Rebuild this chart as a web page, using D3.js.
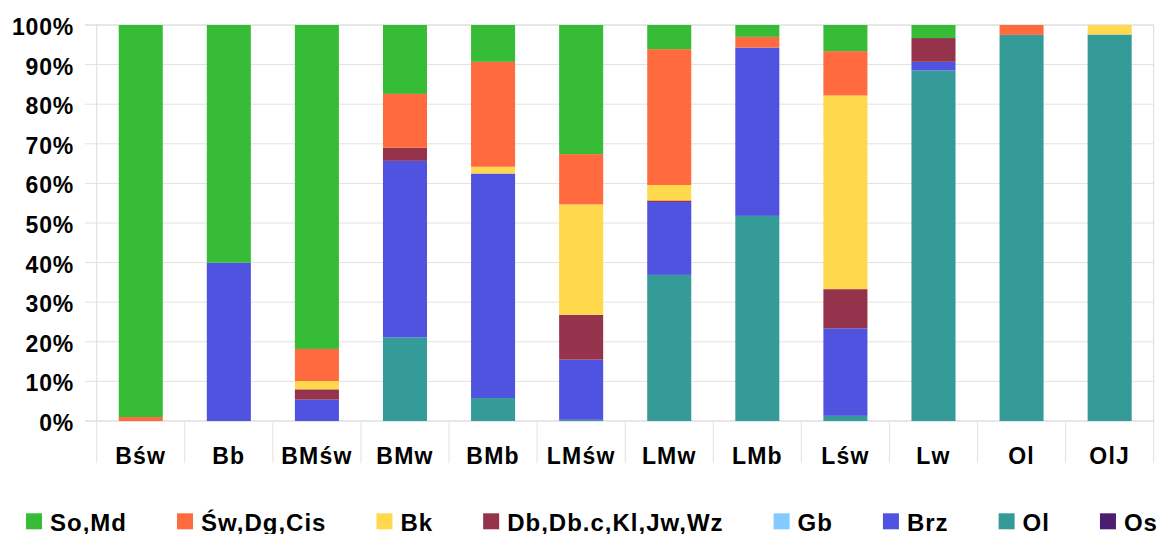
<!DOCTYPE html>
<html>
<head>
<meta charset="utf-8">
<script src="https://cdn.jsdelivr.net/npm/d3@7/dist/d3.min.js"></script>
<style>
  html, body { margin: 0; padding: 0; background: #fff; }
  svg { display: block; }
  text { font-family: "Liberation Sans", Arial, sans-serif; font-weight: bold; fill: #000; }
</style>
</head>
<body>
<svg id="chart" width="1160" height="534"></svg>
<script>
// Stand categories (x axis)
const categories = ["Bśw", "Bb", "BMśw", "BMw", "BMb", "LMśw", "LMw", "LMb", "Lśw", "Lw", "Ol", "OlJ"];

// Species groups, in legend order
const seriesNames = ["So,Md", "Św,Dg,Cis", "Bk", "Db,Db.c,Kl,Jw,Wz", "Gb", "Brz", "Ol", "Os"];
const seriesColors = ["#37bc37", "#ff6b3e", "#ffd84d", "#95334d", "#85caff", "#5052e0", "#359b98", "#4b1e6f"];

// Share of each group per category (%)
const soMd   = [99.0, 60.0, 81.8, 17.4,  9.3, 32.6,  6.1,  3.0,  6.6,  3.3,  0.0,  0.0];
const swDg   = [ 1.0,  0.0,  8.1, 13.6, 26.5, 12.7, 34.3,  2.7, 11.2,  0.0,  2.5,  0.0];
const bk     = [ 0.0,  0.0,  2.1,  0.0,  1.7, 27.9,  3.9,  0.0, 48.9,  0.0,  0.0,  2.4];
const dbKl   = [ 0.0,  0.0,  2.6,  3.3,  0.0, 11.3,  0.4,  0.0,  9.9,  6.0,  0.0,  0.0];
const gb     = [ 0.0,  0.0,  0.0,  0.0,  0.0,  0.0,  0.0,  0.0,  0.0,  0.0,  0.0,  0.0];
const brz    = [ 0.0, 40.0,  5.4, 44.6, 56.7, 15.2, 18.4, 42.5, 22.1,  2.2,  0.0,  0.0];
const ol     = [ 0.0,  0.0,  0.0, 21.1,  5.8,  0.3, 36.9, 51.8,  1.3, 88.5, 97.5, 97.6];
const os     = [ 0.0,  0.0,  0.0,  0.0,  0.0,  0.0,  0.0,  0.0,  0.0,  0.0,  0.0,  0.0];

const yTicks = [0, 10, 20, 30, 40, 50, 60, 70, 80, 90, 100];

const seriesValues = [soMd, swDg, bk, dbKl, gb, brz, ol, os];

// Rows for d3.stack
const rows = categories.map((c, i) => {
  const r = { cat: c };
  seriesNames.forEach((s, k) => { r[s] = seriesValues[k][i]; });
  return r;
});

// Stack bottom-up: Os, Ol, Brz, Gb, Db.., Bk, Św.., So,Md
const stackKeys = seriesNames.slice().reverse();
const stacked = d3.stack().keys(stackKeys)(rows);

const svg = d3.select("#chart");
const plot = { left: 96.7, right: 1153.7, top: 25, bottom: 421 };

const x = d3.scaleBand()
  .domain(categories)
  .range([plot.left, plot.right])
  .paddingInner(0.5)
  .paddingOuter(0.25);

const y = d3.scaleLinear().domain([0, 100]).range([plot.bottom, plot.top]);

// Horizontal grid lines with outward ticks
svg.append("g").selectAll("line")
  .data(yTicks)
  .join("line")
  .attr("x1", 85)
  .attr("x2", plot.right)
  .attr("y1", d => y(d))
  .attr("y2", d => y(d))
  .attr("stroke", d => (d === 100 || d === 0) ? "#cfcfcf" : "#e2e2e2")
  .attr("stroke-width", 1);

// Left and right frame lines
svg.append("line")
  .attr("x1", plot.left).attr("x2", plot.left)
  .attr("y1", plot.top).attr("y2", plot.bottom)
  .attr("stroke", "#dcdcdc");
svg.append("line")
  .attr("x1", plot.right).attr("x2", plot.right)
  .attr("y1", plot.top).attr("y2", plot.bottom)
  .attr("stroke", "#dcdcdc");

// Category separator ticks below the axis
const step = x.step();
const boundaries = d3.range(categories.length + 1).map(i => plot.left + i * step);
svg.append("g").selectAll("line")
  .data(boundaries)
  .join("line")
  .attr("x1", d => d).attr("x2", d => d)
  .attr("y1", plot.bottom).attr("y2", 463)
  .attr("stroke", "#e2e2e2");

// Y tick labels
svg.append("g").selectAll("text")
  .data(yTicks)
  .join("text")
  .attr("x", 74)
  .attr("y", d => y(d) + 10)
  .attr("text-anchor", "end")
  .style("font-size", "23px")
  .style("letter-spacing", "0.8px")
  .text(d => d + "%");

// Stacked bars
const colorOf = d3.scaleOrdinal().domain(seriesNames).range(seriesColors);
svg.append("g").selectAll("g")
  .data(stacked)
  .join("g")
  .attr("fill", d => colorOf(d.key))
  .selectAll("rect")
  .data(d => d.map(v => ({ v, key: d.key })))
  .join("rect")
  .filter(d => d.v[1] - d.v[0] > 0)
  .attr("x", d => x(d.v.data.cat))
  .attr("width", x.bandwidth())
  .attr("y", d => y(d.v[1]))
  .attr("height", d => y(d.v[0]) - y(d.v[1]));

// Category labels
svg.append("g").selectAll("text")
  .data(categories)
  .join("text")
  .attr("x", d => x(d) + x.bandwidth() / 2)
  .attr("y", 464)
  .attr("text-anchor", "middle")
  .style("font-size", "23px")
  .style("letter-spacing", "1.2px")
  .text(d => d);

// Legend
let lx = 26;
const legend = svg.append("g");
seriesNames.forEach((name, k) => {
  legend.append("rect")
    .attr("x", lx).attr("y", 513.3)
    .attr("width", 16).attr("height", 16)
    .attr("fill", seriesColors[k]);
  const t = legend.append("text")
    .attr("x", lx + 24)
    .attr("y", 530.5)
    .style("font-size", "24px")
    .style("letter-spacing", "1px")
    .text(name);
  lx += 24 + t.node().getComputedTextLength() + 50;
});
</script>
</body>
</html>
